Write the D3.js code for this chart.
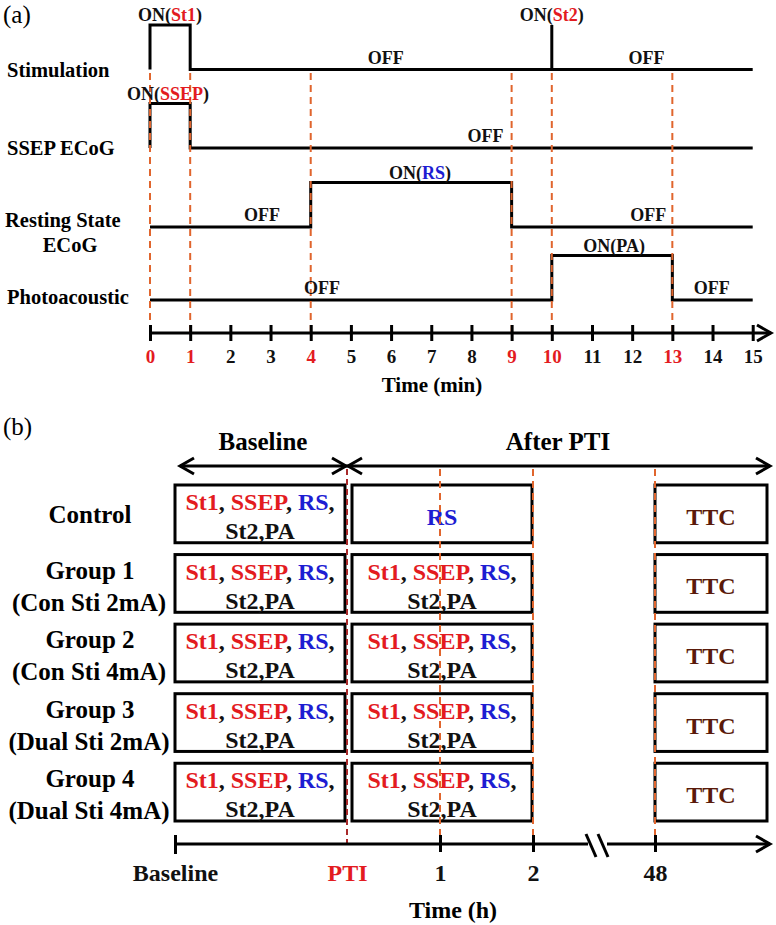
<!DOCTYPE html>
<html><head><meta charset="utf-8">
<script src="https://cdn.jsdelivr.net/npm/d3@7"></script>
<style>body{margin:0;background:#fff}svg{display:block}text{font-family:"Liberation Serif","Times New Roman",serif;font-weight:bold}text.plain{font-weight:normal}</style>
</head><body><svg id="c" width="776" height="925"></svg>
<script>
// ---------- DATA ----------
const timeTicks = [0,1,2,3,4,5,6,7,8,9,10,11,12,13,14,15];
const markTimes = [0,1,4,9,10,13];
const channels = ["Stimulation","SSEP ECoG","Resting State ECoG","Photoacoustic"];
const stimSignal = [[0,0],[0,1],[1,1],[1,0],[10,0],[10,1],[10,0],[15,0]];
const ssepSignal = [[0,0],[0,1],[1,1],[1,0],[15,0]];
const rsSignal   = [[0,0],[4,0],[4,1],[9,1],[9,0],[15,0]];
const paSignal   = [[0,0],[10,0],[10,1],[13,1],[13,0],[15,0]];
const signals = [stimSignal, ssepSignal, rsSignal, paSignal];
// state labels: channel index, time position, level (1=ON above high, 0=OFF above low), text segments [text, kind]
const stateChannel = [0,0,0,0, 1,1, 2,2,2, 3,3,3];
const stateTime    = [0.5,5.87,10,12.36, 0.45,8.35, 2.79,6.72,12.4, 4.28,11.55,13.98];
const stateLevel   = [1,0,1,0, 1,0, 0,1,0, 0,1,0];
const stateText    = [
  [["ON(","k"],["St1","r"],[")","k"]], [["OFF","k"]], [["ON(","k"],["St2","r"],[")","k"]], [["OFF","k"]],
  [["ON(","k"],["SSEP","r"],[")","k"]], [["OFF","k"]],
  [["OFF","k"]], [["ON(","k"],["RS","b"],[")","k"]], [["OFF","k"]],
  [["OFF","k"]], [["ON(PA)","k"]], [["OFF","k"]]
];
const groups    = ["Control","Group 1","Group 2","Group 3","Group 4"];
const groupSub  = ["","(Con Sti 2mA)","(Con Sti 4mA)","(Dual Sti 2mA)","(Dual Sti 4mA)"];
const afterKind = ["rs","full","full","full","full"];
const fullLine1 = [["St1","r"],[", ","k"],["SSEP","r"],[", ","k"],["RS","b"],[",","k"]];
const fullLine2 = [["St2,PA","k"]];
const hourTicks = ["Baseline","PTI","1","2","48"];
const phaseLabels = ["Baseline","After PTI"];

// ---------- DRAW ----------
const col = {k:"#111", r:"#e31b1f", b:"#1d1dd2", ttc:"#5a1a0a"};
const orange = "#e0652d", ptiRed = "#a8292a";
const svg = d3.select("#c");

function richText(g, parts, x, y, size, anchor){
  const t = g.append("text").attr("x",x).attr("y",y).attr("font-size",size).attr("text-anchor",anchor||"middle");
  parts.forEach(p => t.append("tspan").text(p[0]).attr("fill", col[p[1]]));
  return t;
}
function chevron(g, x, y, dir){ // open arrow head, dir=1 right, -1 left
  g.append("path").attr("d", `M${x-dir*14},${y-8}L${x},${y}L${x-dir*14},${y+8}`)
    .attr("fill","none").attr("stroke","#000").attr("stroke-width",3).attr("stroke-linejoin","miter");
}

// ----- panel (a)
const gA = svg.append("g");
gA.append("text").text("(a)").attr("class","plain").attr("x",3).attr("y",23).attr("font-size",25).attr("fill","#000");
const x = d3.scaleLinear().domain([0,15]).range([150,752.7]);
const yBase = d3.scaleOrdinal().domain(channels).range([69.5,148,227,300]);
const amp = d3.scaleLinear().domain([0,1]).range([0,-44.5]);
const axisY = 333;

// signals
const line = d3.line();
signals.forEach((s,i)=>{
  gA.append("path").attr("d", line(s.map(p=>[x(p[0]), yBase(channels[i])+amp(p[1])])))
    .attr("fill","none").attr("stroke","#000").attr("stroke-width",3).attr("stroke-linejoin","miter").attr("stroke-linecap","butt");
});
// dashed markers
gA.selectAll("line.mk").data(markTimes).join("line")
  .attr("x1",d=>x(d)).attr("x2",d=>x(d)).attr("y1",73).attr("y2",axisY)
  .attr("stroke",orange).attr("stroke-width",2).attr("stroke-dasharray","7,5");
// channel labels
const labSize = 20.5;
gA.append("text").text("Stimulation").attr("x",7).attr("y",77).attr("font-size",labSize);
gA.append("text").text("SSEP ECoG").attr("x",7).attr("y",155).attr("font-size",labSize);
gA.append("text").text("Resting State").attr("x",5).attr("y",227).attr("font-size",labSize);
gA.append("text").text("ECoG").attr("x",70).attr("y",252).attr("font-size",labSize).attr("text-anchor","middle");
gA.append("text").text("Photoacoustic").attr("x",7).attr("y",304).attr("font-size",labSize);
// state labels
stateText.forEach((parts,i)=>{
  const ch = channels[stateChannel[i]];
  const yy = yBase(ch) + (stateLevel[i] ? amp(1) - 10 : -12) + 6;
  richText(gA, parts, x(stateTime[i]), yy, 18);
});
// axis
const axis = d3.axisBottom(x).tickValues(timeTicks).tickSize(0).tickFormat(d3.format("d"));
const axG = gA.append("g").attr("transform",`translate(0,${axisY})`).call(axis);
axG.select(".domain").remove();
axG.selectAll(".tick text").attr("font-size",19).attr("font-family",null).attr("dy",null).attr("y",30)
  .attr("fill",d=>markTimes.includes(d)?col.r:col.k);
axG.selectAll(".tick").append("line").attr("y1",-8).attr("y2",8).attr("stroke","#000").attr("stroke-width",3);
gA.append("line").attr("x1",x(0)).attr("x2",771).attr("y1",axisY).attr("y2",axisY).attr("stroke","#000").attr("stroke-width",3);
chevron(gA, 771, axisY, 1);
gA.append("text").text("Time (min)").attr("x",432).attr("y",392).attr("font-size",21).attr("text-anchor","middle");

// ----- panel (b)
const gB = svg.append("g");
gB.append("text").text("(b)").attr("class","plain").attr("x",3).attr("y",435).attr("font-size",25).attr("fill","#000");
const hx = d3.scaleOrdinal().domain(hourTicks).range([175,347,440,533,655]);
const rows = d3.scaleBand().domain(groups).range([485,821]).paddingInner(0.17);
const hdrY = 466, botAxisY = 844;

// phase arrows
gB.append("line").attr("x1",180).attr("x2",hx("PTI")).attr("y1",hdrY).attr("y2",hdrY).attr("stroke","#000").attr("stroke-width",3);
gB.append("line").attr("x1",hx("PTI")).attr("x2",770).attr("y1",hdrY).attr("y2",hdrY).attr("stroke","#000").attr("stroke-width",3);
chevron(gB, 180, hdrY, -1); chevron(gB, hx("PTI")-1, hdrY, 1); chevron(gB, hx("PTI")+1, hdrY, -1); chevron(gB, 770, hdrY, 1);
gB.append("text").text(phaseLabels[0]).attr("x",263).attr("y",450).attr("font-size",25).attr("text-anchor","middle");
gB.append("text").text(phaseLabels[1]).attr("x",558).attr("y",450).attr("font-size",25).attr("text-anchor","middle");

// boxes
const boxCols = [[hx("Baseline"), hx("PTI")-2], [hx("PTI")+5, hx("2")-1], [hx("48"), 767]];
groups.forEach((g,i)=>{
  const top = rows(g), h = rows.bandwidth();
  boxCols.forEach(c=>{
    gB.append("rect").attr("x",c[0]).attr("y",top).attr("width",c[1]-c[0]).attr("height",h)
      .attr("fill","none").attr("stroke","#000").attr("stroke-width",3);
  });
  // row label
  if (groupSub[i]) {
    gB.append("text").text(g).attr("x",90).attr("y",top+24).attr("font-size",25).attr("text-anchor","middle");
    gB.append("text").text(groupSub[i]).attr("x",89).attr("y",top+56).attr("font-size",25).attr("text-anchor","middle");
  } else {
    gB.append("text").text(g).attr("x",90).attr("y",top+h/2+9).attr("font-size",25).attr("text-anchor","middle");
  }
  const c0 = (boxCols[0][0]+boxCols[0][1])/2, c1 = (boxCols[1][0]+boxCols[1][1])/2, c2 = (boxCols[2][0]+boxCols[2][1])/2;
  richText(gB, fullLine1, c0, top+25, 24);
  richText(gB, fullLine2, c0, top+54, 24);
  if (afterKind[i]==="full") {
    richText(gB, fullLine1, c1, top+25, 24);
    richText(gB, fullLine2, c1, top+54, 24);
  } else {
    richText(gB, [["RS","b"]], c1, top+h/2+11, 24);
  }
  gB.append("text").text("TTC").attr("x",c2).attr("y",top+h/2+11).attr("font-size",24).attr("text-anchor","middle").attr("fill",col.ttc);
});

// dashed verticals
gB.append("line").attr("x1",hx("PTI")).attr("x2",hx("PTI")).attr("y1",hdrY+3).attr("y2",botAxisY)
  .attr("stroke",ptiRed).attr("stroke-width",2).attr("stroke-dasharray","6,4");
gB.selectAll("line.hd").data(["1","2","48"]).join("line")
  .attr("x1",d=>hx(d)).attr("x2",d=>hx(d)).attr("y1",hdrY+3).attr("y2",botAxisY)
  .attr("stroke",orange).attr("stroke-width",2).attr("stroke-dasharray","7,5");

// bottom axis with break
gB.append("line").attr("x1",hx("Baseline")).attr("x2",588).attr("y1",botAxisY).attr("y2",botAxisY).attr("stroke","#000").attr("stroke-width",3);
gB.append("line").attr("x1",607).attr("x2",770).attr("y1",botAxisY).attr("y2",botAxisY).attr("stroke","#000").attr("stroke-width",3);
gB.append("line").attr("x1",586).attr("y1",834).attr("x2",596).attr("y2",857).attr("stroke","#000").attr("stroke-width",3);
gB.append("line").attr("x1",598).attr("y1",834).attr("x2",608).attr("y2",857).attr("stroke","#000").attr("stroke-width",3);
chevron(gB, 770, botAxisY, 1);
const bAxis = d3.axisBottom(hx).tickSize(0);
const bG = gB.append("g").attr("transform",`translate(0,${botAxisY})`).call(bAxis);
bG.select(".domain").remove();
bG.selectAll(".tick text").attr("font-size",24).attr("font-family",null).attr("dy",null).attr("y",37)
  .attr("fill",d=>d==="PTI"?col.r:col.k);
bG.selectAll(".tick").filter(d=>d!=="PTI").append("line").attr("y1",-9).attr("y2",d=>d==="Baseline"?10:8).attr("stroke","#000").attr("stroke-width",3);
gB.append("text").text("Time (h)").attr("x",453).attr("y",918).attr("font-size",24).attr("text-anchor","middle");
</script></body></html>
